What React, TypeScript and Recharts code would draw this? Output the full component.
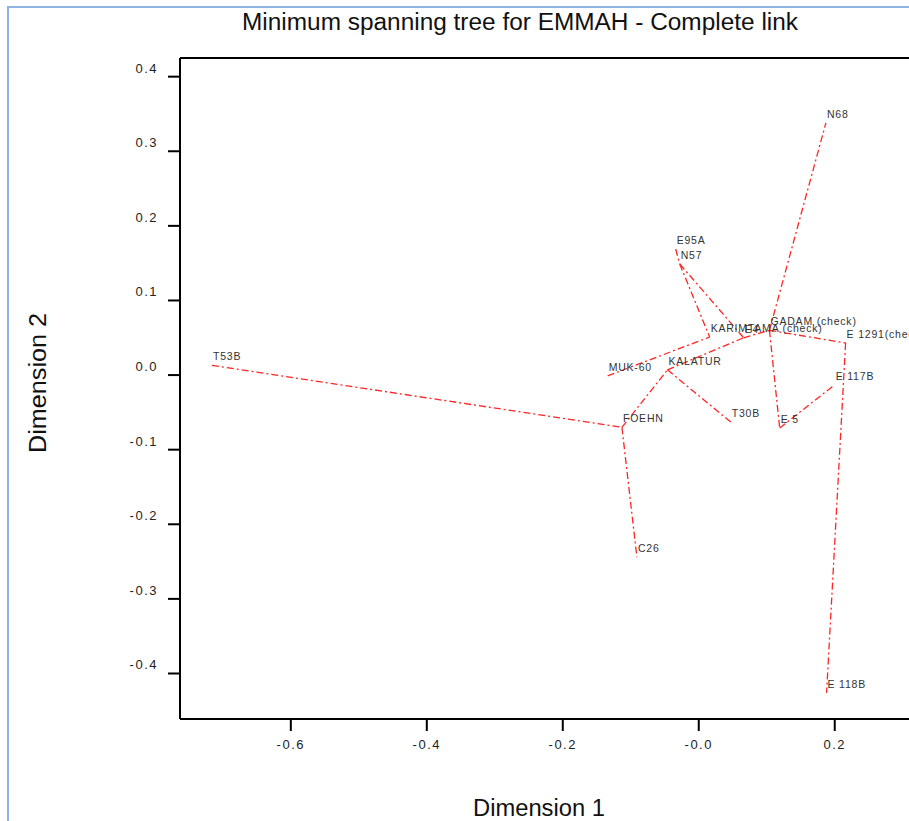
import React from "react";
import { ScatterChart, Scatter, XAxis, YAxis, ReferenceLine } from "recharts";

// Node names, coordinates (Dimension 1, Dimension 2)
const nodeNames = [
  "T53B", "FOEHN", "C26", "KALATUR", "T30B", "MUK-60", "KARIMTAMA (check)",
  "E95A", "N57", "E4", "GADAM (check)", "N68", "E 5", "E 117B", "E 1291(check)", "E 118B",
];
const dim1 = [-0.716, -0.113, -0.091, -0.046, 0.047, -0.134, 0.016, -0.034, -0.028, 0.066, 0.104, 0.187, 0.119, 0.2, 0.216, 0.188];
const dim2 = [0.013, -0.07, -0.244, 0.007, -0.063, -0.001, 0.051, 0.169, 0.149, 0.05, 0.06, 0.338, -0.071, -0.013, 0.043, -0.426];

// Tree edges (from, to)
const edgeFrom = ["T53B", "FOEHN", "FOEHN", "KALATUR", "KALATUR", "MUK-60", "E95A", "N57", "N57", "E4", "GADAM (check)", "GADAM (check)", "E 5", "GADAM (check)", "E 1291(check)"];
const edgeTo = ["FOEHN", "C26", "KALATUR", "T30B", "E4", "KARIMTAMA (check)", "N57", "KARIMTAMA (check)", "E4", "GADAM (check)", "N68", "E 5", "E 117B", "E 1291(check)", "E 118B"];

const xTicks = [-0.6, -0.4, -0.2, 0, 0.2];
const yTicks = [-0.4, -0.3, -0.2, -0.1, 0, 0.1, 0.2, 0.3, 0.4];

const XMIN = -0.763;
const XMAX = 0.371;
const YMIN = -0.461;
const YMAX = 0.425;

const nodes = nodeNames.map((n, i) => ({ x: dim1[i], y: dim2[i], name: n }));
const nodeByName = (n: string) => nodes[nodeNames.indexOf(n)];
const edges = edgeFrom.map((f, i) => [nodeByName(f), nodeByName(edgeTo[i])]);

const FONT = "'Liberation Sans', Arial, sans-serif";
const RED = "#ff2424";

const XTick = (props: any) => {
  const { x, y, payload } = props;
  const v = payload.value;
  const label = Math.abs(v) < 1e-9 ? "-0.0" : v.toFixed(1);
  return (
    <text x={x} y={y + 16} textAnchor="middle" fontFamily={FONT} fontSize={13} letterSpacing={1.5} fill="#222">
      {label}
    </text>
  );
};

const YTick = (props: any) => {
  const { x, y, payload } = props;
  const v = payload.value;
  const label = Math.abs(v) < 1e-9 ? "0.0" : v.toFixed(1);
  return (
    <text x={x - 8} y={y - 4} textAnchor="end" fontFamily={FONT} fontSize={13} letterSpacing={1.5} fill="#222">
      {label}
    </text>
  );
};

const NodeLabel = (props: any) => {
  const { cx, cy, payload } = props;
  return (
    <text x={cx + 1} y={cy - 5} fontFamily={FONT} fontSize={10.5} letterSpacing={0.8} fill="#333">
      {payload.name}
    </text>
  );
};

const Empty = () => <g />;

export default function App() {
  return (
    <div style={{ position: "absolute", left: 0, top: 0, width: 909, height: 821, overflow: "hidden", background: "#fff" }}>
      <div
        style={{
          position: "absolute",
          left: 7,
          top: 6,
          width: 1000,
          height: 1000,
          borderLeft: "2px solid #8db4e2",
          borderTop: "2px solid #8db4e2",
        }}
      />
      <div style={{ position: "absolute", left: 0, top: 0 }}>
        <ScatterChart width={1000} height={821} margin={{ top: 58, right: 49, left: 120, bottom: 62 }}>
          <XAxis
            type="number"
            dataKey="x"
            domain={[XMIN, XMAX]}
            ticks={xTicks}
            allowDataOverflow
            height={40}
            axisLine={{ stroke: "#000", strokeWidth: 2 }}
            tickLine={{ stroke: "#000", strokeWidth: 2 }}
            tickSize={12}
            tick={<XTick />}
          />
          <YAxis
            type="number"
            dataKey="y"
            domain={[YMIN, YMAX]}
            ticks={yTicks}
            allowDataOverflow
            width={60}
            axisLine={{ stroke: "#000", strokeWidth: 2 }}
            tickLine={{ stroke: "#000", strokeWidth: 2 }}
            tickSize={12}
            tick={<YTick />}
          />
          <ReferenceLine y={YMAX} stroke="#000" strokeWidth={2} ifOverflow="extendDomain" />
          {edges.map((e, i) => (
            <Scatter
              key={"edge" + i}
              data={e}
              line={{ stroke: RED, strokeWidth: 1.3, strokeDasharray: "7 3 2 3" }}
              shape={<Empty />}
              isAnimationActive={false}
            />
          ))}
          <Scatter data={nodes} shape={<NodeLabel />} isAnimationActive={false} />
        </ScatterChart>
      </div>
      <svg width={909} height={821} style={{ position: "absolute", left: 0, top: 0, pointerEvents: "none" }}>
        <text x={520} y={30} textAnchor="middle" fontFamily={FONT} fontSize={23} textLength={556} lengthAdjust="spacingAndGlyphs" fill="#111">
          Minimum spanning tree for EMMAH - Complete link
        </text>
        <text x={539} y={816} textAnchor="middle" fontFamily={FONT} fontSize={23} textLength={132} lengthAdjust="spacingAndGlyphs" fill="#111">
          Dimension 1
        </text>
        <text
          x={0}
          y={0}
          transform="translate(46,383) rotate(-90)"
          textAnchor="middle"
          fontFamily={FONT}
          fontSize={23}
          textLength={140}
          lengthAdjust="spacingAndGlyphs"
          fill="#111"
        >
          Dimension 2
        </text>
      </svg>
    </div>
  );
}
